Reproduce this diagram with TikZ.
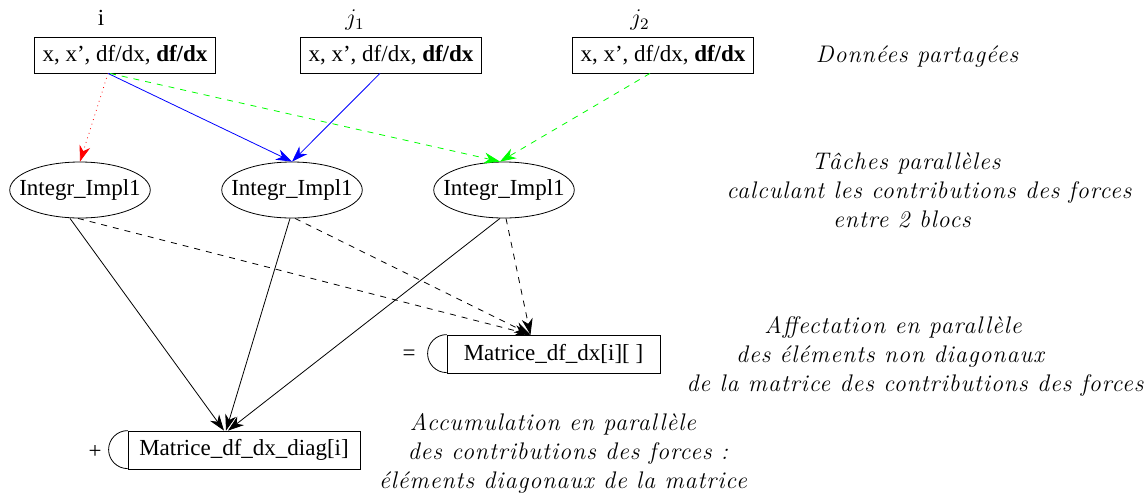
\documentclass[tikz,border=0pt]{standalone}
\usepackage{fontspec}
\setmainfont{Liberation Serif}
\newfontfamily\lgfont[LetterSpace=4.0]{Latin Modern Roman}
\usetikzlibrary{arrows.meta,shapes.geometric}
\tikzset{
  donnee/.style={draw,rectangle,minimum height=18pt,inner xsep=4pt},
  tache/.style={draw,ellipse,minimum width=68pt,minimum height=28pt,inner xsep=-5.5pt,inner ysep=3pt},
  matrice/.style={draw,rectangle,minimum height=19pt,inner sep=0pt},
  legende/.style={font=\lgfont\itshape\fontsize{12}{14.5}\selectfont,align=center},
  fl/.style={-{Stealth[length=8pt,width=5.5pt,inset=2.5pt]}},
}
\begin{document}
\begin{tikzpicture}[x=0.5pt,y=-0.5pt,font=\fontsize{11.5}{13}\selectfont]
\useasboundingbox (0,0) rectangle (1146,494);
% donnees partagees
\node (li) at (101,18) {i};
\node (lj1) at (355,20) {$j_1$};
\node (lj2) at (640,20) {$j_2$};
\node[donnee] (bi) at (125,55) {x, x', df/dx, \textbf{df/dx}};
\node[donnee] (bj1) at (391,55) {x, x', df/dx, \textbf{df/dx}};
\node[donnee] (bj2) at (663,55) {x, x', df/dx, \textbf{df/dx}};
% taches
\node[tache] (ta) at (80,190) {Integr\_Impl1};
\node[tache] (tb) at (292,190) {Integr\_Impl1};
\node[tache] (tc) at (504,190) {Integr\_Impl1};
% matrices
\node[matrice,minimum width=106.5pt] (mat) at (553.5,354) {Matrice\_df\_dx[i][ ]};
\node[matrice,minimum width=116pt] (diag) at (244,450) {Matrice\_df\_dx\_diag[i]};
\draw (mat.north west) arc[start angle=90,end angle=270,radius=9.5pt];
\draw (diag.north west) arc[start angle=90,end angle=270,radius=9.5pt];
\node (eg) at (409,355) {=};
\node (pl) at (95,452) {+};
% fleches
\draw[fl,red,dotted] ([xshift=-8.5pt]bi.south) -- (ta.north);
\draw[fl,blue] ([xshift=-8.5pt]bi.south) -- (tb.north);
\draw[fl,blue] ([xshift=-5.5pt]bj1.south) -- (tb.north);
\draw[fl,green,dashed] ([xshift=-7.5pt]bi.south) -- ([xshift=-2pt]tc.north);
\draw[fl,green,dashed] ([xshift=-6.5pt]bj2.south) -- ([xshift=-2pt]tc.north);
\draw[fl] ([xshift=-5pt]ta.south) -- ([xshift=-10pt]diag.north);
\draw[fl] ([xshift=-1pt]tb.south) -- ([xshift=-9pt]diag.north);
\draw[fl] ([xshift=-2pt]tc.south) -- ([xshift=-8pt]diag.north);
\draw[fl,dashed] ([xshift=-1pt]ta.south) -- ([xshift=-11.5pt]mat.north);
\draw[fl,dashed] ([xshift=1.5pt]tb.south) -- ([xshift=-11.5pt]mat.north);
\draw[fl,dashed] ([xshift=1pt]tc.south) -- ([xshift=-11.5pt]mat.north);
% legendes
\node[legende] (ldp) at (917,57) {Données partagées};
\node[legende] (ltp) at (929,190) {\hspace*{-23pt}Tâches parallèles\\calculant les contributions des forces\\\hspace*{-27pt}entre 2 blocs};
\node[legende] (laf) at (915,356) {\hspace*{-22pt}Affectation en parallèle\\\hspace*{-25pt}des éléments non diagonaux\\de la matrice des contributions des forces};
\node[legende] (lac) at (563,453) {\hspace*{-10pt}Accumulation en parallèle\\\hspace*{5pt}des contributions des forces :\\éléments diagonaux de la matrice};
\end{tikzpicture}
\end{document}
